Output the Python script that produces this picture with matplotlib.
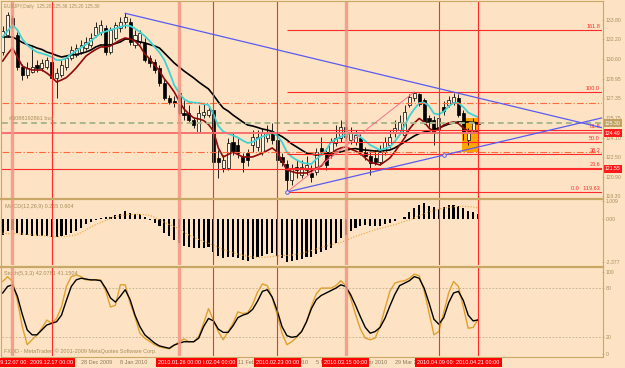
import matplotlib
matplotlib.use('Agg')
import matplotlib.pyplot as plt
import matplotlib.transforms as mtransforms
from matplotlib.patches import Rectangle
from matplotlib.lines import Line2D

plt.rcParams['font.family'] = ['Liberation Sans', 'DejaVu Sans']

# ---- daily bars EURJPY, 3 Dec 2009 .. 21 Apr 2010 (bar index 0..97)
opens = [131.2, 132.56, 133.96, 132.6, 129.93, 129.27, 129.52, 130.09, 129.85, 129.93,
         130.34, 129.02, 129.27, 129.93, 130.67, 130.92, 131.16, 131.5, 131.74, 132.56,
         132.81, 133.14, 131.2, 132.32, 133.14, 133.64, 133.64, 131.74, 131.99, 131.9,
         130.67, 130.34, 129.85, 128.6, 127.38, 127.1, 127.8, 126.14, 126.14, 125.56,
         124.57, 125.97, 125.97, 126.39, 122.43, 121.6, 121.6, 123.75, 123.5, 122.52,
         122.85, 123.5, 123.3, 122.93, 124.08, 124.49, 123.92, 122.52, 121.94, 120.62,
         121.69, 121.03, 121.45, 121.2, 121.28, 123.25, 122.93, 122.68, 123.67, 124.08,
         124.98, 123.92, 123.75, 124.08, 122.93, 122.6, 122.43, 122.1, 122.93, 123.5,
         124.49, 124.74, 124.33, 126.8, 127.38, 127.7, 127.21, 125.73, 125.56, 124.74,
         126.6, 126.8, 127.05, 127.38, 126.14, 123.9, 124.74, 125.20]
highs = [133.3, 134.46, 134.2, 132.8, 130.17, 130.35, 131.57, 130.5, 130.6, 130.75,
         130.67, 129.85, 130.5, 130.92, 131.66, 131.82, 132.15, 132.4, 132.7, 133.64,
         133.8, 133.39, 133.2, 133.64, 134.05, 134.35, 133.96, 132.98, 133.0, 132.3,
         130.92, 130.6, 130.09, 128.95, 127.62, 127.5, 128.03, 127.2, 126.8, 125.8,
         126.8, 126.96, 126.72, 126.64, 123.09, 122.68, 124.08, 124.49, 124.08, 122.85,
         123.2, 124.74, 124.7, 124.9, 125.15, 125.3, 124.16, 122.85, 122.27, 121.94,
         122.27, 122.27, 122.6, 121.86, 123.25, 124.16, 123.25, 124.08, 125.15, 125.56,
         125.56, 125.0, 124.7, 124.57, 123.3, 123.0, 123.09, 123.5, 124.16, 124.74,
         125.56, 125.97, 126.8, 127.7, 127.87, 127.8, 127.4, 126.0, 125.9, 126.39,
         127.1, 127.5, 127.79, 127.7, 126.4, 124.9, 125.73, 125.36]
lows = [130.9, 132.4, 133.1, 129.7, 128.86, 129.02, 129.43, 129.52, 129.6, 129.77,
        128.86, 127.38, 129.1, 129.68, 130.5, 130.75, 131.0, 131.33, 131.58, 132.4,
        132.56, 130.92, 131.0, 132.15, 132.8, 133.14, 131.74, 131.5, 131.82, 130.34,
        129.93, 129.43, 128.37, 127.2, 126.88, 126.6, 125.97, 125.56, 125.4, 124.9,
        124.49, 125.73, 125.8, 121.94, 120.78, 121.28, 121.45, 122.68, 122.43, 121.28,
        121.8, 122.9, 123.0, 122.7, 123.75, 123.6, 122.02, 121.78, 119.63, 120.21,
        120.8, 120.8, 121.03, 120.45, 121.0, 122.7, 121.45, 122.4, 123.4, 123.75,
        123.9, 123.6, 123.5, 122.68, 122.3, 121.03, 121.86, 121.86, 122.7, 123.25,
        124.2, 124.5, 124.2, 126.6, 127.1, 126.7, 125.2, 125.0, 123.5, 124.5,
        126.0, 126.6, 126.8, 125.8, 123.9, 123.5, 124.5, 125.20]
closes = [132.9, 134.21, 133.39, 129.9, 129.27, 129.85, 129.93, 129.85, 130.26, 130.5,
          129.02, 129.43, 130.09, 130.67, 131.33, 131.5, 131.74, 131.99, 132.3, 133.22,
          133.39, 131.16, 132.98, 133.39, 133.64, 134.05, 131.99, 132.56, 132.73, 130.5,
          130.26, 129.68, 128.6, 127.38, 127.05, 127.0, 126.14, 125.97, 125.56, 125.15,
          126.14, 126.2, 126.39, 122.1, 122.1, 122.27, 123.67, 122.93, 122.85, 122.1,
          122.27, 124.16, 124.2, 124.49, 124.49, 123.92, 122.27, 122.1, 120.62, 121.6,
          121.45, 121.69, 121.86, 120.9, 122.93, 122.93, 121.86, 123.75, 124.08, 124.98,
          124.16, 124.57, 124.33, 122.93, 122.6, 122.02, 122.1, 122.93, 123.75, 124.16,
          124.9, 125.4, 126.22, 127.46, 127.79, 126.88, 125.4, 125.4, 124.49, 125.73,
          126.3, 127.21, 127.46, 125.97, 124.49, 124.57, 125.4, 125.30]

# moving averages
ma_cyan = [132.40, 132.89, 133.39, 132.98, 132.23, 131.74, 131.41, 131.16, 131.04, 130.92,
           130.75, 130.50, 130.50, 130.67, 131.00, 131.25, 131.53, 131.78, 132.07, 132.40,
           132.73, 132.85, 132.98, 133.10, 133.22, 133.35, 133.31, 133.10, 132.81, 132.48,
           132.07, 131.58, 131.12, 130.50, 129.52, 128.45, 127.79, 127.29, 127.05, 127.00,
           126.96, 126.88, 126.80, 126.06, 125.07, 124.62, 124.45, 124.29, 124.12, 123.87,
           123.67, 123.75, 124.00, 124.20, 124.33, 124.53, 124.29, 123.75, 122.93, 122.52,
           122.27, 122.06, 121.98, 121.94, 122.35, 122.68, 123.09, 123.75, 123.96, 124.20,
           124.33, 124.49, 124.45, 124.16, 123.83, 123.50, 123.30, 123.09, 123.21, 123.34,
           123.79, 124.33, 125.07, 125.89, 126.47, 126.96, 127.00, 126.72, 126.10, 126.02,
           126.26, 126.68, 126.96, 126.96, 126.63, 126.18, 125.97, 125.81]
ma_black = [132.40, 132.40, 132.40, 132.19, 131.95, 131.78, 131.66, 131.49, 131.37, 131.16,
            131.04, 130.88, 130.75, 130.83, 130.92, 130.96, 131.04, 131.16, 131.33, 131.58,
            131.74, 131.74, 131.74, 131.86, 131.99, 132.23, 132.23, 132.11, 131.99, 131.91,
            131.78, 131.66, 131.49, 131.08, 130.67, 130.26, 129.93, 129.60, 129.31, 129.02,
            128.69, 128.40, 128.12, 127.62, 127.05, 126.55, 126.30, 125.97, 125.69, 125.40,
            125.15, 125.07, 124.95, 124.82, 124.74, 124.62, 124.41, 124.20, 123.92, 123.59,
            123.34, 123.09, 122.84, 122.76, 122.68, 122.72, 122.80, 122.84, 122.89, 122.93,
            123.05, 123.17, 123.21, 123.13, 123.09, 123.05, 123.01, 123.01, 123.05, 123.09,
            123.26, 123.50, 123.75, 124.00, 124.25, 124.45, 124.57, 124.66, 124.78, 124.90,
            125.07, 125.23, 125.32, 125.40, 125.40, 125.40, 125.36, 125.32]
ma_red = [130.42, 131.00, 131.49, 130.75, 130.01, 129.81, 129.68, 129.68, 129.68, 129.43,
          129.11, 128.69, 128.86, 129.06, 129.43, 129.85, 130.34, 130.83, 131.12, 131.37,
          131.58, 131.58, 131.66, 131.91, 132.15, 132.32, 132.23, 132.07, 131.66, 131.00,
          130.59, 130.09, 129.60, 128.94, 128.45, 127.87, 127.13, 126.47, 126.06, 125.73,
          125.65, 125.52, 125.19, 124.66, 123.26, 122.52, 122.72, 122.93, 122.72, 122.52,
          122.52, 122.52, 122.68, 122.84, 123.05, 123.26, 122.93, 122.19, 121.44, 121.32,
          121.20, 121.20, 121.20, 121.36, 121.61, 121.77, 122.27, 122.76, 123.09, 123.26,
          123.34, 123.17, 123.01, 122.80, 122.43, 122.10, 121.98, 121.86, 122.14, 122.43,
          122.93, 123.50, 124.08, 124.82, 125.32, 125.69, 125.40, 124.90, 124.62, 124.82,
          125.15, 125.32, 125.40, 125.27, 124.90, 124.66, 124.49, 124.66]

macd_hist = [-0.86, -0.68, -0.59, -0.77, -0.86, -0.86, -0.95, -0.95, -0.95, -0.95,
             -0.98, -0.98, -0.95, -0.86, -0.77, -0.68, -0.50, -0.27, -0.14, -0.05,
             0.04, 0.09, 0.13, 0.22, 0.30, 0.45, 0.34, 0.30, 0.27, 0.13,
             -0.05, -0.23, -0.41, -0.77, -0.95, -1.13, -1.31, -1.45, -1.55, -1.60,
             -1.60, -1.58, -1.55, -1.80, -2.00, -2.15, -2.10, -2.10, -2.15, -2.25,
             -2.30, -2.20, -2.10, -2.00, -1.90, -1.85, -2.00, -2.15, -2.35, -2.30,
             -2.25, -2.20, -2.10, -2.05, -1.90, -1.80, -1.70, -1.56, -1.31, -1.04,
             -0.86, -0.68, -0.50, -0.38, -0.34, -0.38, -0.41, -0.38, -0.27, -0.20,
             -0.10, 0.00, 0.13, 0.40, 0.60, 0.75, 0.86, 0.70, 0.63, 0.56,
             0.65, 0.75, 0.75, 0.72, 0.60, 0.45, 0.38, 0.255]
macd_signal = [-0.78, -0.80, -0.80, -0.80, -0.82, -0.84, -0.86, -0.89, -0.91, -0.93,
               -0.95, -0.96, -0.96, -0.95, -0.92, -0.86, -0.74, -0.60, -0.44, -0.30,
               -0.20, -0.08, 0.05, 0.13, 0.18, 0.22, 0.25, 0.26, 0.25, 0.23,
               0.20, 0.10, -0.05, -0.18, -0.30, -0.41, -0.55, -0.72, -0.88, -1.00,
               -1.12, -1.22, -1.32, -1.43, -1.55, -1.66, -1.76, -1.85, -1.92, -1.98,
               -2.03, -2.07, -2.10, -2.10, -2.08, -2.05, -2.02, -2.00, -1.99, -1.97,
               -1.93, -1.88, -1.80, -1.72, -1.64, -1.56, -1.48, -1.41, -1.34, -1.27,
               -1.18, -1.06, -0.95, -0.86, -0.77, -0.68, -0.59, -0.52, -0.45, -0.38,
               -0.32, -0.22, -0.13, -0.05, 0.05, 0.17, 0.28, 0.39, 0.47, 0.54,
               0.60, 0.64, 0.67, 0.69, 0.70, 0.68, 0.65, 0.604]

stoch_k = [88, 94, 88, 65, 33, 11, 17, 23, 31, 41,
           37, 43, 57, 82, 94, 96, 94, 90, 90, 90,
           90, 77, 57, 59, 84, 84, 62, 45, 25, 19,
           15, 11, 8.5, 7, 6, 10, 14.6, 18, 14.6, 14.6,
           21, 37, 55, 41, 27, 17, 27, 37, 51, 49,
           50, 60, 75, 85, 83, 68, 48, 25, 11, 14.6,
           20, 27, 39, 58, 73, 80, 80, 80, 83, 89,
           83, 68, 48, 30, 19, 17, 19, 33, 55, 76,
           86, 88, 89, 92, 97, 95, 77, 50, 23, 27,
           50, 74, 88, 82, 57, 31, 32, 42.08]
stoch_d = [74, 82, 84, 70, 48, 29, 23, 23, 29, 35,
           37, 39, 47, 65, 82, 90, 92, 91, 90, 90,
           89, 80, 68, 63, 70, 78, 66, 47, 33, 23,
           18, 13, 9.5, 8, 6.6, 10.6, 12.7, 14.6, 14.6, 14.6,
           19, 33, 43, 40, 30, 26, 26, 34, 44, 47,
           49, 54, 64, 76, 78, 69, 53, 33, 22, 20,
           21, 27, 39, 55, 66, 71, 74, 77, 80, 84,
           82, 72, 59, 45, 32, 25, 27, 32, 43, 58,
           72, 83, 86, 89, 94, 92, 80, 62, 42, 36,
           44, 62, 74, 76, 65, 47, 40, 41.15]

# chart objects
fib_low, fib_high, fib_start = 119.63, 127.87, 58
fib_high_bar = 84
fib_levels = [0.0, 23.6, 38.2, 50.0, 61.8, 100.0, 161.8]
upper_trend = [(25, 134.35), (85, 128.54)]
lower_trend = [(58, 119.63), (90, 122.67)]
tp_level, order_level, sl_level = 126.96, 125.34, 122.95
hline_levels = [124.49, 121.55]
rect_bars, rect_prices = (93.8, 97.3), (122.93, 125.73)
vline_bars = [2, 10, 36, 43, 56, 70, 89, 97]
vline_thick = [True, False, True, False, False, True, False, False]
vline_text = ['2009.12.07 00:00', '2009.12.17 00:00', '2010.01.26 00:00', '2010.02.04 00:00',
              '2010.02.23 00:00', '2010.03.15 00:00', '2010.04.09 00:00', '2010.04.21 00:00']
# time-scale labels that are not completely hidden by the red line labels
date_bars = [16, 24, 48, 56, 64, 72, 80]
date_text = ['28 Dec 2009', '8 Jan 2010', '11 Feb 2010', '23 Feb 2010', '5 Mar 2010',
             '17 Mar 2010', '29 Mar 2010']
price_ticks = [133.80, 132.20, 130.60, 128.95, 127.35, 125.75, 124.10, 122.50, 120.90, 119.30]
macd_ticks = [1.009, 0.0, -2.377]
stoch_ticks = [100, 80, 20, 0]

W, H = 625, 368
BG = '#FDE3C3'
TAN = '#C9A767'
TXT = '#A88E5C'
RED = '#FF2B2B'
BLUE = '#5A5AF0'
XMIN, XMAX = -0.14, 122.3

fig = plt.figure(figsize=(W / 100, H / 100), dpi=100)
fig.patch.set_facecolor(BG)


def panel(top, bottom, ticks, labels):
    a = fig.add_axes([2 / W, 1 - bottom / H, 600 / W, (bottom - top) / H])
    a.set_facecolor(BG)
    for s in a.spines.values():
        s.set_visible(False)
    a.set_xlim(XMIN, XMAX)
    a.tick_params(axis='x', bottom=False, labelbottom=False)
    a.yaxis.tick_right()
    a.set_yticks(ticks)
    a.set_yticklabels(labels)
    a.tick_params(axis='y', length=1.5, width=0.5, color=TAN, labelcolor=TXT,
                  labelsize=3.7, pad=1.2)
    return a


ax = panel(2, 198, price_ticks, ['%.2f' % p for p in price_ticks])
ax.set_ylim(119.14, 135.28)
am = panel(200, 265, macd_ticks, ['1.009', '0.00', '-2.377'])
am.set_ylim(-2.514, 1.038)
ast = panel(268, 356, stoch_ticks, ['100', '80', '20', '0'])
ast.set_ylim(-2.8, 104.5)

# frame and separators
def fline(x0, y0, x1, y1, lw):
    fig.add_artist(Line2D([x0 / W, x1 / W], [1 - y0 / H, 1 - y1 / H], color=TAN, lw=lw))

fline(1.5, 1, 602.5, 1, 0.8)
fline(1.5, 1, 1.5, 357, 0.8)
fline(602.5, 1, 602.5, 357, 0.8)
fline(1.5, 199, 602.5, 199, 1.6)
fline(1.5, 266.5, 602.5, 266.5, 1.6)
fline(1.5, 357, 602.5, 357, 0.8)

idx = list(range(len(closes)))

# orange rectangle (background object)
ax.add_patch(Rectangle((rect_bars[0], rect_prices[0]), rect_bars[1] - rect_bars[0],
                       rect_prices[1] - rect_prices[0], fc='#FFA500', ec='none', zorder=1))

# candles
for i in idx:
    o, h, l, c = opens[i], highs[i], lows[i], closes[i]
    ax.vlines(i, l, h, color='black', lw=0.6, zorder=3)
    lo, hi = min(o, c), max(o, c)
    fc = 'black' if c < o else '#FFF3DF'
    ax.add_patch(Rectangle((i - 0.32, lo), 0.64, max(hi - lo, 0.03), fc=fc, ec='black',
                           lw=0.5, zorder=4))

ax.plot(idx, ma_black, color='black', lw=1.2, zorder=5)
ax.plot(idx, ma_red, color='#8E0A0A', lw=1.2, zorder=5)
ax.plot(idx, ma_cyan, color='#3FD3D3', lw=1.3, zorder=5)

# horizontal objects
ax.axhline(tp_level, color='#FF6A3A', lw=0.8, ls=(0, (6, 2, 1, 2)), zorder=6)
ax.axhline(sl_level, color='#FF6A3A', lw=0.8, ls=(0, (6, 2, 1, 2)), zorder=6)
ax.axhline(order_level, color='#A9B68C', lw=1.4, ls=(0, (3, 2)), zorder=6)
ax.axhline(hline_levels[0], color='#F77070', lw=1.4, zorder=6)
ax.axhline(hline_levels[1], color=RED, lw=0.8, zorder=6)
ax.text(1.2, order_level + 0.12, '#3088192861 buy', color=TXT, fontsize=4, va='bottom', zorder=7)

# fibonacci
for lv in fib_levels:
    p = fib_low + (fib_high - fib_low) * lv / 100
    ax.hlines(p, fib_start, XMAX, color=RED, lw=0.8, zorder=6)
    lab = '0.0   %.2f' % fib_low if lv == 0 else '%.1f' % lv
    ax.text(121.9, p + 0.08, lab, color=RED, fontsize=4, ha='right', va='bottom', zorder=7)
ax.plot([fib_start, fib_high_bar], [fib_low, fib_high], color='#F8708C', lw=0.7, zorder=6)

# trend lines (rays to the right edge)
for (x1, y1), (x2, y2) in [upper_trend, lower_trend]:
    k = (y2 - y1) / (x2 - x1)
    ax.plot([x1, XMAX], [y1, y1 + k * (XMAX - x1)], color=BLUE, lw=0.9, zorder=7)
ax.plot([p[0] for p in lower_trend], [p[1] for p in lower_trend], 'o', mfc=BG, mec=BLUE,
        mew=0.7, ms=2.6, zorder=8)

# price boxes on the right scale
bt = mtransforms.blended_transform_factory(ax.transAxes, ax.transData)
ax.text(1.004, 125.30, '125.30', transform=bt, fontsize=3.7, color='white', va='center',
        bbox=dict(boxstyle='square,pad=0.3', fc='#C2A263', ec='none'), zorder=9)
for p in hline_levels:
    ax.text(1.004, p, '%.2f' % p, transform=bt, fontsize=3.7, color='white', va='center',
            bbox=dict(boxstyle='square,pad=0.3', fc='#FF1A1A', ec='none'), zorder=9)

fig.text(4 / W, 1 - 6.5 / H, 'EURJPY,Daily  125.20 125.36 125.20 125.30', color=TXT,
         fontsize=3.4, va='center')

# MACD
am.bar(idx, macd_hist, width=0.42, color='black', zorder=3)
am.plot(idx, macd_signal, color='#E8A23A', lw=0.8, ls=(0, (1, 1.5)), zorder=4)
am.text(0.005, 0.905, 'MACD(12,26,9) 0.255 0.604', transform=am.transAxes, color=TXT,
        fontsize=4, va='center')

# Stochastic
for lv in (80, 20):
    ast.axhline(lv, color='#BCAE8E', lw=0.6, ls=(0, (2, 2)), zorder=2)
ast.plot(idx, stoch_k, color='#E0A02E', lw=1.0, zorder=3)
ast.plot(idx, stoch_d, color='black', lw=1.0, zorder=4)
ast.text(0.004, 0.94, 'Stoch(5,3,3) 42.0781 41.1504', transform=ast.transAxes, color=TXT,
         fontsize=4, va='center')
ast.text(0.004, 0.05, 'FXDD - MetaTrader, \u00a9 2001-2009 MetaQuotes Software Corp.',
         transform=ast.transAxes, color=TXT, fontsize=4, va='center')

# vertical lines across all panels
for a in (ax, am, ast):
    for b, thick in zip(vline_bars, vline_thick):
        if thick:
            a.axvline(b, color='#F49484', lw=2.4, alpha=0.85, zorder=6)
        else:
            a.axvline(b, color=RED, lw=0.8, zorder=6)

# time scale
tt = mtransforms.blended_transform_factory(ast.transData, ast.transAxes)
for b, s in zip(date_bars, date_text):
    ast.text(b, -0.074, s, transform=tt, fontsize=4, color='#8A7A5A', ha='left',
             va='center', clip_on=False)
order = [0, 1, 3, 2, 4, 5, 6, 7]
for z, n in enumerate(order):
    ast.text(vline_bars[n], -0.074, vline_text[n], transform=tt, fontsize=4, color='white',
             ha='center', va='center', clip_on=False, zorder=10 + z,
             bbox=dict(boxstyle='square,pad=0.35', fc='#FF0000', ec='none'))

fig.savefig('out.png', dpi=100, facecolor=BG)
